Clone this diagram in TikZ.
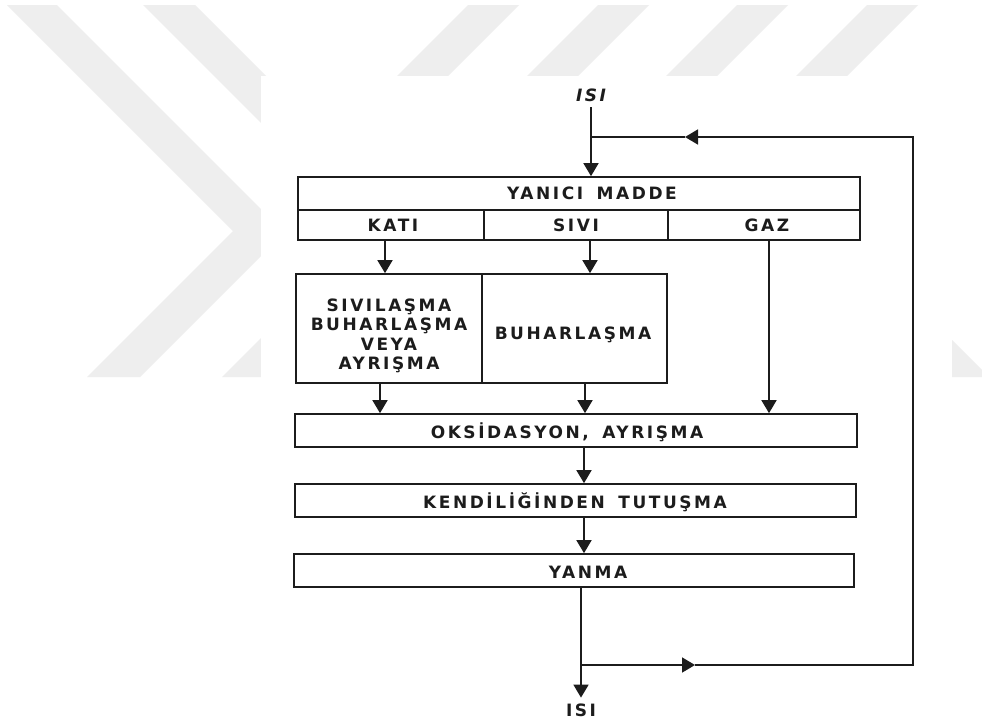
\documentclass[tikz,border=0pt]{standalone}
\usepackage{fontspec}
\setmainfont{DejaVu Sans}
\newfontfamily\lf[LetterSpace=15,WordSpace=1.6]{DejaVu Sans}
\usetikzlibrary{arrows.meta}
\definecolor{wm}{HTML}{EEEEEE}
\definecolor{ink}{HTML}{1C1C1C}
\begin{document}
\begin{tikzpicture}[x=1pt,y=-1pt,
  box/.style={draw=ink, line width=1.7pt, rectangle, inner sep=0pt},
  lblbase/.style={font=\lf\bfseries\fontsize{17}{19.5}\selectfont, text=ink, inner sep=0pt, align=center},
  lbl/.style={lblbase, text height=12.4pt, text depth=0pt},
  conn/.style={draw=ink, line width=1.7pt, line join=miter},
  arr/.style={conn, -{Triangle[width=15pt,length=13pt]}}]
% page and watermark
\useasboundingbox (0,0) rectangle (982,723);
\fill[white] (0,0) rectangle (982,723);
\begin{scope}
  \clip (0,5) rectangle (982,377);
  \fill[wm] (7,5) -- (57,5) -- (284.5,232.5) -- (140,377) -- (87,377) -- (233,231) -- cycle;
  \fill[wm] (143,5) -- (195,5) -- (421,231) -- (275,377) -- (222,377) -- (368.5,230.5) -- cycle;
  \foreach \s in {468,598,737,867}{
    \fill[wm] (\s,5) -- (\s+51,5) -- (\s-39,95) -- (\s-90,95) -- cycle;
  }
  \fill[wm] (952,340) -- (989,377) -- (952,377) -- cycle;
\end{scope}
\fill[white] (261,76) rectangle (952,723);

% boxes
\node[box, minimum width=562pt, minimum height=33pt] (yanici) at (579,193.5) {};
\node[box, minimum width=186pt, minimum height=30pt] (kati) at (391,225) {};
\node[box, minimum width=184pt, minimum height=30pt] (sivi) at (576,225) {};
\node[box, minimum width=192pt, minimum height=30pt] (gaz) at (764,225) {};
\node[box, minimum width=186pt, minimum height=109pt] (sivilasma) at (389,328.5) {};
\node[box, minimum width=185pt, minimum height=109pt] (buhar) at (574.5,328.5) {};
\node[box, minimum width=562pt, minimum height=33pt] (oks) at (576,430.5) {};
\node[box, minimum width=561pt, minimum height=33pt] (kend) at (575.5,500.5) {};
\node[box, minimum width=560pt, minimum height=33pt] (yanma) at (574,570.5) {};

% labels
\node[lbl, font=\lf\bfseries\itshape\fontsize{17}{19.5}\selectfont] (isiTop) at (591,95) {ISI};
\node[lbl] (tYanici) at (592,193.5) {YANICI MADDE};
\node[lbl] (tKati) at (393,225) {KATI};
\node[lbl] (tSivi) at (576,225) {SIVI};
\node[lbl] (tGaz) at (767,225) {GAZ};
\node[lblbase] (tSivilasma) at (389,336) {SIVILAŞMA\\BUHARLAŞMA\\VEYA\\AYRIŞMA};
\node[lbl] (tBuhar) at (573,333) {BUHARLAŞMA};
\node[lbl] (tOks) at (567,432) {OKSİDASYON, AYRIŞMA};
\node[lbl] (tKend) at (575,502) {KENDİLİĞİNDEN TUTUŞMA};
\node[lbl] (tYanma) at (588,572) {YANMA};
\node[lbl] (isiBot) at (581,710) {ISI};

% connectors
\draw[arr] ([yshift=-6pt]isiTop.south) -- (isiTop.south |- yanici.north);
\draw[arr] ([xshift=-6pt]kati.south) -- ([xshift=-6pt]kati.south |- sivilasma.north);
\draw[arr] ([xshift=14pt]sivi.south) -- ([xshift=14pt]sivi.south |- buhar.north);
\draw[arr] ([xshift=5pt]gaz.south) -- ([xshift=5pt]gaz.south |- oks.north);
\draw[arr] ([xshift=-9pt]sivilasma.south) -- ([xshift=-9pt]sivilasma.south |- oks.north);
\draw[arr] ([xshift=10.5pt]buhar.south) -- ([xshift=10.5pt]buhar.south |- oks.north);
\draw[arr] ([xshift=8pt]oks.south) -- ([xshift=8pt]oks.south |- kend.north);
\draw[arr] ([xshift=8.5pt]kend.south) -- ([xshift=8.5pt]kend.south |- yanma.north);
\draw[arr] (yanma.south -| isiBot) -- ([yshift=6pt]isiBot.north);

% feedback loop
\coordinate (j2) at (581,665);
\coordinate (m2) at (695,665);
\coordinate (c1) at (913,665);
\coordinate (c2) at (913,137);
\coordinate (m1) at (685,137);
\coordinate (j1) at (591,137);
\draw[arr] (j2) -- (m2);
\draw[arr] (m2) -- (c1) -- (c2) -- (m1);
\draw[conn] (m1) -- (j1);
\end{tikzpicture}
\end{document}
